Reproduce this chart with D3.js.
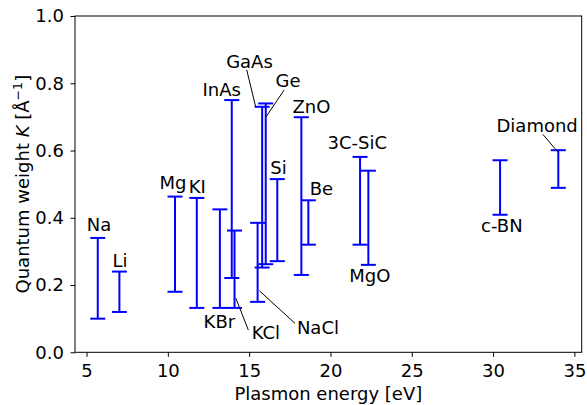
<!DOCTYPE html>
<html>
<head>
<meta charset="utf-8">
<script src="https://cdn.jsdelivr.net/npm/d3@7"></script>
<style>
  body { margin: 0; background: #fff; }
  #chart { width: 587px; height: 405px; }
  text { font-family: "DejaVu Sans", sans-serif; }
</style>
</head>
<body>
<div id="chart"></div>
<script>
// materials, plasmon energy [eV] and quantum weight range K [1/Å]
const materials = ["Na", "Li", "Mg", "KI", "KBr", "InAs", "KCl", "NaCl", "GaAs", "Ge",
  "Si", "ZnO", "Be", "3C-SiC", "MgO", "c-BN", "Diamond"];
const energy = [5.69, 7.02, 10.44, 11.78, 13.2, 13.93, 14.1, 15.52, 15.8, 16.02,
  16.73, 18.21, 18.64, 21.82, 22.33, 30.43, 34.01];
const kLow = [0.10, 0.12, 0.18, 0.132, 0.132, 0.221, 0.132, 0.15, 0.252, 0.262,
  0.271, 0.23, 0.32, 0.32, 0.26, 0.409, 0.489];
const kHigh = [0.34, 0.24, 0.463, 0.459, 0.425, 0.75, 0.362, 0.385, 0.73, 0.74,
  0.515, 0.699, 0.452, 0.581, 0.54, 0.571, 0.601];

// label anchor (data coords, text centre / baseline)
const labelX = [5.77, 7.06, 10.31, 11.81, 13.17, 13.31, 16.03, 19.23, 15.02, 17.39,
  16.80, 18.83, 19.44, 21.65, 22.42, 30.54, 32.71];
const labelY = [0.361, 0.253, 0.485, 0.473, 0.073, 0.763, 0.039, 0.054, 0.845, 0.788,
  0.530, 0.711, 0.468, 0.604, 0.210, 0.357, 0.656];

// leader lines for crowded labels (data coords)
const leaderFor = ["GaAs", "Ge", "KCl", "NaCl", "Diamond"];
const leaderFrom = [[14.85, 0.840], [17.15, 0.780], [14.95, 0.066], [17.82, 0.086], [33.06, 0.648]];
const leaderTo = [[15.40, 0.730], [16.04, 0.700], [14.18, 0.161], [15.63, 0.183], [33.96, 0.597]];

const xDomain = [4.29, 35.45];
const yDomain = [0, 1];
const xTicks = [5, 10, 15, 20, 25, 30, 35];
const yTicks = [0, 0.2, 0.4, 0.6, 0.8, 1.0];

const W = 587, H = 405;
const m = { left: 75, right: 5.3, top: 16, bottom: 52.7 };
const fs = 18;

const svg = d3.select("#chart").append("svg")
  .attr("width", W).attr("height", H);

const x = d3.scaleLinear().domain(xDomain).range([m.left, W - m.right]);
const y = d3.scaleLinear().domain(yDomain).range([H - m.bottom, m.top]);

// error bars
const bars = svg.append("g");
const capHalf = 7.5;
materials.forEach((name, i) => {
  const g = bars.append("g").attr("stroke", "#0000ff").attr("stroke-width", 2);
  g.append("line")
    .attr("x1", x(energy[i])).attr("x2", x(energy[i]))
    .attr("y1", y(kLow[i])).attr("y2", y(kHigh[i]));
  [kLow[i], kHigh[i]].forEach((v) => {
    g.append("line")
      .attr("x1", x(energy[i]) - capHalf).attr("x2", x(energy[i]) + capHalf)
      .attr("y1", y(v)).attr("y2", y(v));
  });
});

// leader lines
leaderFor.forEach((name, i) => {
  svg.append("line")
    .attr("x1", x(leaderFrom[i][0])).attr("y1", y(leaderFrom[i][1]))
    .attr("x2", x(leaderTo[i][0])).attr("y2", y(leaderTo[i][1]))
    .attr("stroke", "#000").attr("stroke-width", 1);
});

// labels
svg.append("g").selectAll("text")
  .data(materials)
  .enter()
  .append("text")
  .attr("x", (d, i) => x(labelX[i]))
  .attr("y", (d, i) => y(labelY[i]))
  .attr("text-anchor", "middle")
  .attr("font-size", fs)
  .attr("fill", "#000")
  .text((d) => d);

// axes
const xAxis = svg.append("g")
  .attr("transform", `translate(0,${H - m.bottom})`)
  .call(d3.axisBottom(x).tickValues(xTicks).tickSize(4.5).tickPadding(7).tickFormat(d3.format("d")));
const yAxis = svg.append("g")
  .attr("transform", `translate(${m.left},0)`)
  .call(d3.axisLeft(y).tickValues(yTicks).tickSize(4.5).tickPadding(6.5).tickFormat(d3.format(".1f")));

[xAxis, yAxis].forEach((a) => {
  a.select(".domain").remove();
  a.selectAll(".tick line").attr("stroke", "#000").attr("stroke-width", 1);
  a.selectAll(".tick text").attr("font-size", fs).attr("fill", "#000")
    .attr("font-family", "DejaVu Sans");
});

// frame
svg.append("rect")
  .attr("x", m.left).attr("y", m.top)
  .attr("width", W - m.left - m.right).attr("height", H - m.top - m.bottom)
  .attr("fill", "none").attr("stroke", "#000").attr("stroke-width", 1);

// axis titles
svg.append("text")
  .attr("x", (m.left + W - m.right) / 2)
  .attr("y", 400)
  .attr("text-anchor", "middle")
  .attr("font-size", fs)
  .text("Plasmon energy [eV]");

const yl = svg.append("text")
  .attr("transform", `translate(29,${(m.top + H - m.bottom) / 2}) rotate(-90)`)
  .attr("text-anchor", "middle")
  .attr("font-size", fs);
yl.append("tspan").text("Quantum weight ");
yl.append("tspan").attr("font-style", "italic").text("K");
yl.append("tspan").text(" [Å");
yl.append("tspan").attr("font-size", 12.6).attr("dy", -7).text("−1");
yl.append("tspan").attr("dy", 7).text("]");
</script>
</body>
</html>
